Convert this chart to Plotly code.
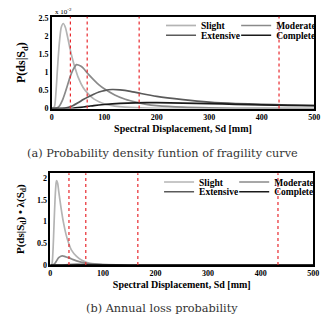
import plotly.graph_objects as go

W, H = 328, 320

# ---- data ----
# (a) probability density of fragility curve, values in x10^-2
sd_slight_a = [0, 5, 8, 10, 12, 15, 18, 22, 26, 30, 35, 40, 45, 50, 60, 70, 80, 90, 100, 120, 140, 160, 200, 250, 300, 400, 500]
slight_a = [0, 0.05, 0.45, 0.9, 1.35, 1.9, 2.25, 2.36, 2.25, 2.0, 1.65, 1.35, 1.1, 0.88, 0.58, 0.4, 0.27, 0.19, 0.13, 0.07, 0.04, 0.025, 0.01, 0.004, 0.002, 0.001, 0]

sd_moderate_a = [0, 10, 15, 20, 25, 30, 35, 40, 47, 55, 60, 70, 80, 90, 100, 120, 140, 160, 180, 200, 250, 300, 350, 400, 500]
moderate_a = [0, 0.02, 0.08, 0.22, 0.42, 0.65, 0.88, 1.06, 1.22, 1.18, 1.12, 0.95, 0.8, 0.66, 0.55, 0.38, 0.26, 0.18, 0.12, 0.085, 0.04, 0.02, 0.01, 0.006, 0.003]

sd_extensive_a = [0, 20, 30, 40, 50, 60, 70, 80, 90, 100, 115, 130, 150, 170, 200, 250, 300, 350, 400, 450, 500]
extensive_a = [0, 0.005, 0.03, 0.08, 0.16, 0.25, 0.33, 0.4, 0.46, 0.5, 0.53, 0.52, 0.48, 0.42, 0.34, 0.25, 0.18, 0.14, 0.12, 0.1, 0.09]

sd_complete_a = [0, 30, 40, 50, 60, 70, 80, 100, 130, 160, 200, 250, 300, 350, 400, 450, 500]
complete_a = [0, 0.003, 0.01, 0.025, 0.045, 0.065, 0.085, 0.115, 0.145, 0.16, 0.165, 0.155, 0.14, 0.12, 0.105, 0.09, 0.08]

# (b) annual loss probability
sd_slight_b = [0, 3, 5, 7, 9, 11, 12, 14, 16, 20, 25, 30, 35, 40, 50, 60, 70, 80, 100, 150, 200, 500]
slight_b = [0, 0.02, 0.3, 0.9, 1.5, 1.88, 1.94, 1.88, 1.7, 1.35, 0.98, 0.7, 0.5, 0.35, 0.2, 0.11, 0.06, 0.035, 0.012, 0.002, 0, 0]

sd_moderate_b = [0, 5, 8, 10, 13, 16, 20, 23, 27, 32, 37, 45, 55, 65, 75, 90, 100, 150, 200, 500]
moderate_b = [0, 0.005, 0.03, 0.06, 0.12, 0.17, 0.205, 0.21, 0.2, 0.18, 0.16, 0.12, 0.08, 0.05, 0.03, 0.015, 0.01, 0.002, 0, 0]

sd_extensive_b = [0, 20, 35, 50, 70, 100, 150, 200, 500]
extensive_b = [0, 0.002, 0.01, 0.015, 0.013, 0.008, 0.003, 0.001, 0]

sd_complete_b = [0, 40, 70, 100, 150, 250, 500]
complete_b = [0, 0.002, 0.005, 0.005, 0.003, 0.001, 0]

thresholds = [35.5, 67.5, 166.5, 433]

names = ["Slight", "Moderate", "Extensive", "Complete"]
colors = ["#b4b4b4", "#8a8a8a", "#5a5a5a", "#1a1a1a"]
x_ticks = [0, 100, 200, 300, 400, 500]
y_ticks_a = [0, 0.5, 1, 1.5, 2, 2.5]
y_ticks_b = [0, 0.5, 1, 1.5, 2]

series_a = [(sd_slight_a, slight_a), (sd_moderate_a, moderate_a), (sd_extensive_a, extensive_a), (sd_complete_a, complete_a)]
series_b = [(sd_slight_b, slight_b), (sd_moderate_b, moderate_b), (sd_extensive_b, extensive_b), (sd_complete_b, complete_b)]

SERIF = "Liberation Serif"
fig = go.Figure()

for i, (xs, ys) in enumerate(series_a):
    fig.add_trace(go.Scatter(x=xs, y=ys, mode="lines", name=names[i],
                             line=dict(color=colors[i], width=1.7, shape="spline", smoothing=0.6),
                             xaxis="x", yaxis="y", legend="legend" if i == 0 else f"legend{i + 1}"))
for i, (xs, ys) in enumerate(series_b):
    fig.add_trace(go.Scatter(x=xs, y=ys, mode="lines", name=names[i],
                             line=dict(color=colors[i], width=1.7, shape="spline", smoothing=0.6),
                             xaxis="x2", yaxis="y2", legend=f"legend{i + 5}"))

for t in thresholds:
    for xr, yr in (("x", "y"), ("x2", "y2")):
        fig.add_shape(type="line", xref=xr, yref=yr + " domain", x0=t, x1=t, y0=0, y1=1,
                      line=dict(color="#e8282d", width=1.2, dash="dot"))

def px_x(p):
    return p / W

def px_y(p):
    return 1 - p / H

axis_common = dict(showline=True, linecolor="black", linewidth=1.5, mirror=True, showgrid=False, zeroline=False,
                   ticks="", tickfont=dict(family=SERIF, size=8, color="black", weight="bold"))

xtitle = dict(text="Spectral Displacement, Sd [mm]", font=dict(family=SERIF, size=10, color="black", weight="bold"), standoff=4)

fig.update_layout(
    width=W, height=H, margin=dict(l=0, r=0, t=0, b=0),
    paper_bgcolor="white", plot_bgcolor="white",
    xaxis=dict(domain=[px_x(51), px_x(320)], range=[0, 500], tickvals=x_ticks, anchor="y", title=xtitle, **axis_common),
    yaxis=dict(domain=[px_y(109), px_y(15)], range=[0, 2.55], tickvals=y_ticks_a, anchor="x",
               title=dict(text="P(ds|S<sub>d</sub>)", font=dict(family=SERIF, size=12, color="black", weight="bold"), standoff=10),
               **axis_common),
    xaxis2=dict(domain=[px_x(49.5), px_x(319)], range=[0, 500], tickvals=x_ticks, anchor="y2", title=xtitle, **axis_common),
    yaxis2=dict(domain=[px_y(269), px_y(175)], range=[0, 2.11], tickvals=y_ticks_b, anchor="x2",
                title=dict(text="P(ds|S<sub>d</sub>) • λ(S<sub>d</sub>)", font=dict(family=SERIF, size=11, color="black", weight="bold"), standoff=10),
                **axis_common),
    showlegend=True,
)

leg_common = dict(orientation="v", xanchor="left", yanchor="middle", bgcolor="rgba(0,0,0,0)",
                  font=dict(family=SERIF, size=9.5, color="black", weight="bold"),
                  itemwidth=30, tracegroupgap=0, borderwidth=0)
# legend anchor positions (px): columns and rows for each panel
leg_pos = [(163, 24), (240, 24), (163, 34), (240, 34),
           (161, 184), (238, 184), (161, 194), (238, 194)]
leg_layout = {}
for k, (lx, ly) in enumerate(leg_pos):
    key = "legend" if k == 0 else f"legend{k + 1}"
    leg_layout[key] = dict(x=px_x(lx), y=px_y(ly), **leg_common)
fig.update_layout(**leg_layout)

fig.add_annotation(x=px_x(52), y=px_y(10), xref="paper", yref="paper", xanchor="left", yanchor="middle",
                   text="x 10<sup>-2</sup>", showarrow=False, font=dict(family=SERIF, size=7, color="black"))

cap_font = dict(family="DejaVu Serif", size=11.3, color="#333333")
fig.add_annotation(x=px_x(164), y=px_y(155), xref="paper", yref="paper", xanchor="center", yanchor="middle",
                   text="(a) Probability density funtion of fragility curve", showarrow=False, font=cap_font)
fig.add_annotation(x=px_x(164), y=px_y(313.5), xref="paper", yref="paper", xanchor="center", yanchor="middle",
                   text="(b) Annual loss probability", showarrow=False, font=cap_font)

fig.write_html("out.html")
